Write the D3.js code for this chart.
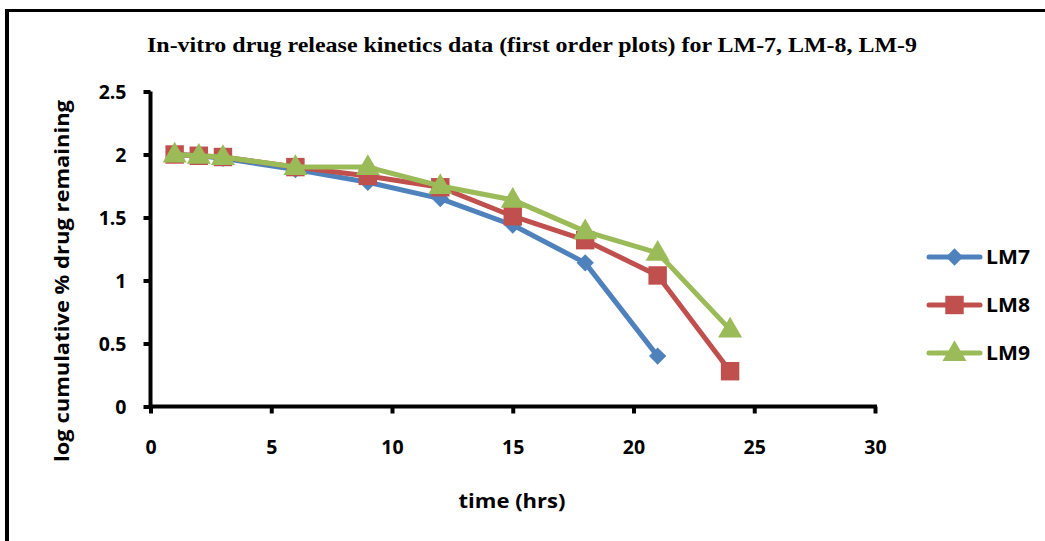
<!DOCTYPE html>
<html>
<head>
<meta charset="utf-8">
<script src="https://cdn.jsdelivr.net/npm/d3@7"></script>
<style>
  html, body { margin: 0; padding: 0; background: #fff; }
  svg { display: block; }
</style>
</head>
<body>
<svg id="chart" width="1045" height="541"></svg>
<script>
// First-order release data: log cumulative % drug remaining vs time (hrs)
const timesLM7 = [1, 2, 3, 6, 9, 12, 15, 18, 21];
const timesLM8 = [1, 2, 3, 6, 9, 12, 15, 18, 21, 24];
const timesLM9 = [1, 2, 3, 6, 9, 12, 15, 18, 21, 24];
const valuesLM7 = [2.00, 1.99, 1.97, 1.88, 1.78, 1.65, 1.44, 1.14, 0.40];
const valuesLM8 = [2.00, 1.99, 1.98, 1.90, 1.83, 1.74, 1.51, 1.32, 1.04, 0.28];
const valuesLM9 = [2.00, 1.99, 1.98, 1.90, 1.90, 1.75, 1.64, 1.39, 1.22, 0.61];
const seriesNames = ["LM7", "LM8", "LM9"];
const xTicks = [0, 5, 10, 15, 20, 25, 30];
const yTicks = [0, 0.5, 1, 1.5, 2, 2.5];
const yTickLabels = ["0", "0.5", "1", "1.5", "2", "2.5"];

const titleText = "In-vitro drug release kinetics data (first order plots) for LM-7, LM-8, LM-9";
const xLabel = "time (hrs)";
const yLabel = "log cumulative % drug remaining";

const series = [
  { name: seriesNames[0], t: timesLM7, v: valuesLM7, color: "#4F81BD", marker: "diamond" },
  { name: seriesNames[1], t: timesLM8, v: valuesLM8, color: "#C0504D", marker: "square" },
  { name: seriesNames[2], t: timesLM9, v: valuesLM9, color: "#9BBB59", marker: "triangle" }
];

const svg = d3.select("#chart");
const sansFont = "'Open Sans', Lato, sans-serif";

// Outer frame (left and top edges)
svg.append("line").attr("x1", 7).attr("x2", 7).attr("y1", 9).attr("y2", 541)
  .attr("stroke", "#000").attr("stroke-width", 4);
svg.append("line").attr("x1", 5).attr("x2", 1045).attr("y1", 10.5).attr("y2", 10.5)
  .attr("stroke", "#000").attr("stroke-width", 3);

const x = d3.scaleLinear().domain([0, 30]).range([150.5, 875]);
const y = d3.scaleLinear().domain([0, 2.5]).range([406.5, 91.5]);

// Title
svg.append("text")
  .attr("x", 532).attr("y", 52)
  .attr("text-anchor", "middle")
  .attr("font-family", "'Liberation Serif', 'Times New Roman', serif")
  .attr("font-weight", "bold")
  .attr("font-size", 21)
  .attr("textLength", 770)
  .attr("lengthAdjust", "spacingAndGlyphs")
  .text(titleText);

// Axes
const xAxis = d3.axisBottom(x).tickValues(xTicks).tickSize(7).tickFormat(d3.format("d"));
const yAxis = d3.axisLeft(y).tickValues(yTicks).tickSize(7)
  .tickFormat((d, i) => yTickLabels[i]);

const gx = svg.append("g").attr("transform", `translate(0,${y(0)})`).call(xAxis);
const gy = svg.append("g").attr("transform", `translate(${x(0)},0)`).call(yAxis);

[gx, gy].forEach(g => {
  g.attr("font-family", null).attr("font-size", null);
  g.select(".domain").attr("stroke", "#000").attr("stroke-width", 4);
  g.selectAll(".tick line").attr("stroke", "#000").attr("stroke-width", 4);
  g.selectAll(".tick text")
    .attr("fill", "#000")
    .attr("font-family", sansFont)
    .attr("font-weight", "bold")
    .attr("font-size", 19.5);
});
gx.select(".domain").attr("d", `M${x(0)},0H${x(30) + 2}`);
gy.select(".domain").attr("d", `M0,${y(0) + 2}V${y(2.5)}`);
gx.selectAll(".tick text").attr("dy", "0").attr("y", 47);
gy.selectAll(".tick text").attr("x", -24).attr("dy", "0.36em");

// Axis titles
svg.append("text")
  .attr("x", 512).attr("y", 508)
  .attr("text-anchor", "middle")
  .attr("font-family", sansFont)
  .attr("font-weight", "bold")
  .attr("font-size", 20)
  .attr("textLength", 107)
  .attr("lengthAdjust", "spacingAndGlyphs")
  .text(xLabel);

svg.append("text")
  .attr("transform", "translate(69,281) rotate(-90)")
  .attr("text-anchor", "middle")
  .attr("font-family", sansFont)
  .attr("font-weight", "bold")
  .attr("font-size", 20)
  .attr("textLength", 362)
  .attr("lengthAdjust", "spacingAndGlyphs")
  .text(yLabel);

// Marker shapes
function markerD(kind) {
  if (kind === "diamond") return d3.symbol().type(d3.symbolSquare).size(150)();
  if (kind === "square") return d3.symbol().type(d3.symbolSquare).size(340)();
  return d3.symbol().type(d3.symbolTriangle).size(250)();
}
function markerRotate(kind) { return kind === "diamond" ? 45 : 0; }
function markerShift(kind) { return kind === "triangle" ? 1 : 0; }

const line = d3.line().x(d => x(d[0])).y(d => y(d[1]));

series.forEach(s => {
  const pts = s.t.map((t, i) => [t, s.v[i]]);
  const g = svg.append("g");
  g.append("path")
    .attr("d", line(pts))
    .attr("fill", "none")
    .attr("stroke", s.color)
    .attr("stroke-width", 5)
    .attr("stroke-linejoin", "round")
    .attr("stroke-linecap", "round");
  g.selectAll("path.mk")
    .data(pts)
    .join("path")
    .attr("class", "mk")
    .attr("d", markerD(s.marker))
    .attr("transform", d => `translate(${x(d[0])},${y(d[1]) + markerShift(s.marker)}) rotate(${markerRotate(s.marker)})`)
    .attr("fill", s.color);
});

// Legend
const legend = svg.append("g");
const legendY = [257, 305, 353];
series.forEach((s, i) => {
  const ly = legendY[i];
  legend.append("line")
    .attr("x1", 929).attr("x2", 980).attr("y1", ly).attr("y2", ly)
    .attr("stroke", s.color).attr("stroke-width", 5).attr("stroke-linecap", "round");
  legend.append("path")
    .attr("d", markerD(s.marker))
    .attr("transform", `translate(954.5,${ly + markerShift(s.marker)}) rotate(${markerRotate(s.marker)})`)
    .attr("fill", s.color);
  legend.append("text")
    .attr("x", 986).attr("y", ly)
    .attr("dy", "0.36em")
    .attr("font-family", sansFont)
    .attr("font-weight", "bold")
    .attr("font-size", 20)
    .attr("textLength", 44)
    .attr("lengthAdjust", "spacingAndGlyphs")
    .text(s.name);
});
</script>
</body>
</html>
